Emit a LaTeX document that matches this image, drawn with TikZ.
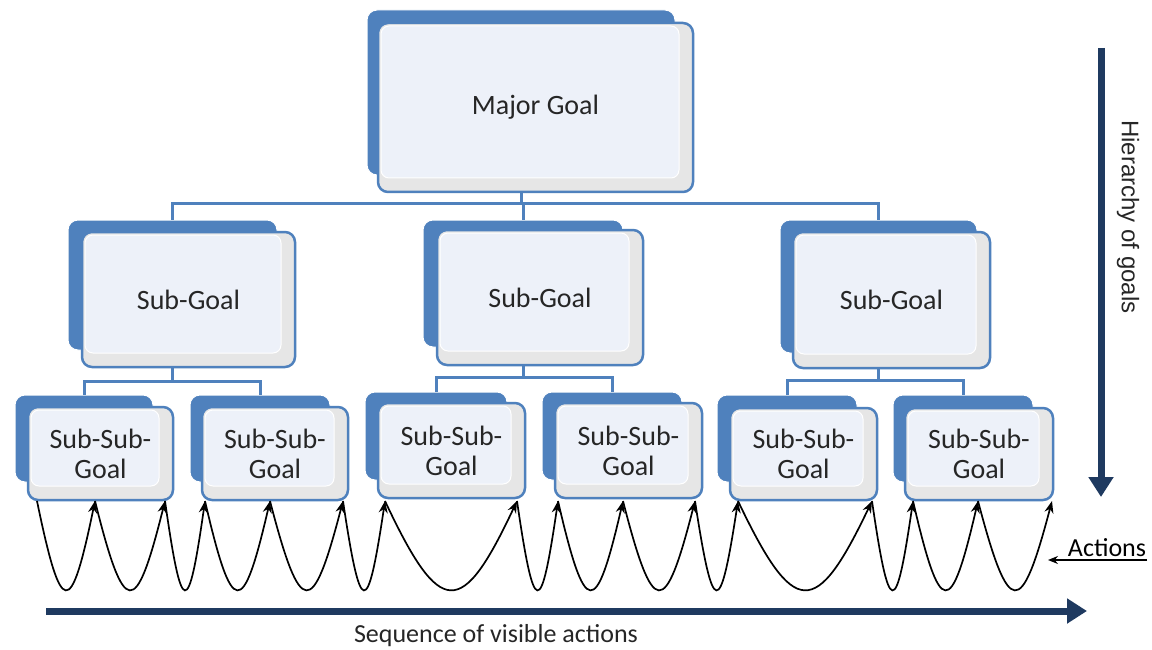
\documentclass[tikz,border=0pt]{standalone}
\usepackage{fontspec}
\setmainfont{Carlito}
\newfontfamily\arialfont{Liberation Sans}
\usetikzlibrary{fit,calc,arrows.meta}
\definecolor{boxblue}{HTML}{4F81BD}
\definecolor{innerfill}{HTML}{EDF1F9}
\definecolor{bevel}{HTML}{E6E6E6}
\definecolor{navy}{HTML}{1F3A60}
\definecolor{txt}{HTML}{262626}
\begin{document}
\begin{tikzpicture}[x=1pt,y=-1pt,
  backbox/.style={fill=boxblue, draw=white, line width=1pt, rounded corners=10pt, inner sep=0pt},
  frontbox/.style={fill=bevel, draw=boxblue, line width=2.5pt, rounded corners=10pt, inner sep=0pt,
    path picture={\fill[innerfill, draw=white, line width=1pt, rounded corners=8pt]
      ($(path picture bounding box.north west)+(3,3)$) rectangle
      ($(path picture bounding box.south east)+(-14,-14)$);}},
  boxtext/.style={text=txt, inner sep=0pt, font=\fontsize{28}{30}\selectfont, align=center},
  conn/.style={draw=boxblue, line width=3pt},
  action/.style={draw=black, line width=1.7pt, -{Stealth[length=12pt,width=9pt]}},
  bigarrow/.style={draw=navy, line width=7pt, -{Triangle[length=20pt,width=24pt]}},
  lbl/.style={text=txt, inner sep=0pt}
]
\fill[white] (0,0) rectangle (1152,650);
\useasboundingbox (0,0) rectangle (1152,650);

% Major goal
\node[backbox, fit={(367,10) (675,175)}] (majB) {};
\node[frontbox, fit={(378,23) (693,192)}] (majF) {};
\node[boxtext] (majT) at (majF.center) {Major Goal};

% Sub-goals
\node[backbox, fit={(68,220) (277,350)}] (sg1B) {};
\node[frontbox, fit={(82,232) (295,367)}] (sg1F) {};
\node[boxtext] (sg1T) at (sg1F.center) {Sub-Goal};
\node[backbox, fit={(423,220) (623,347)}] (sg2B) {};
\node[frontbox, fit={(437,230) (643,365)}] (sg2F) {};
\node[boxtext] (sg2T) at (sg2F.center) {Sub-Goal};
\node[backbox, fit={(780,220) (977,353)}] (sg3B) {};
\node[frontbox, fit={(793,232) (990,368)}] (sg3F) {};
\node[boxtext] (sg3T) at (sg3F.center) {Sub-Goal};

% Sub-sub-goals
\node[backbox, fit={(15,395) (153,482)}] (ssg1B) {};
\node[frontbox, fit={(28,407) (173,500)}] (ssg1F) {};
\node[boxtext] (ssg1T) at (ssg1F.center) {Sub-Sub-\\Goal};
\node[backbox, fit={(190,395) (330,482)}] (ssg2B) {};
\node[frontbox, fit={(202,407) (348,500)}] (ssg2F) {};
\node[boxtext] (ssg2T) at (ssg2F.center) {Sub-Sub-\\Goal};
\node[backbox, fit={(365,392) (507,480)}] (ssg3B) {};
\node[frontbox, fit={(378,403) (525,498)}] (ssg3F) {};
\node[boxtext] (ssg3T) at (ssg3F.center) {Sub-Sub-\\Goal};
\node[backbox, fit={(542,392) (682,480)}] (ssg4B) {};
\node[frontbox, fit={(555,403) (702,498)}] (ssg4F) {};
\node[boxtext] (ssg4T) at (ssg4F.center) {Sub-Sub-\\Goal};
\node[backbox, fit={(717,395) (857,482)}] (ssg5B) {};
\node[frontbox, fit={(730,408) (877,500)}] (ssg5F) {};
\node[boxtext] (ssg5T) at (ssg5F.center) {Sub-Sub-\\Goal};
\node[backbox, fit={(893,395) (1033,482)}] (ssg6B) {};
\node[frontbox, fit={(905,408) (1053,500)}] (ssg6F) {};
\node[boxtext] (ssg6T) at (ssg6F.center) {Sub-Sub-\\Goal};

% tree connectors
\coordinate (j0) at (0,204);
\coordinate (j1) at (0,381);
\coordinate (j2) at (0,377);
\coordinate (j3) at (0,380);
\draw[conn] (majF.south -| majB.center) -- (j0 -| majB.center) -| (sg1B.north);
\draw[conn] (j0 -| majB.center) -| (sg2B.north);
\draw[conn] (j0 -| majB.center) -| (sg3B.north);
\draw[conn] (sg1F.south -| sg1B.center) -- (j1 -| sg1B.center) -| (ssg1B.north);
\draw[conn] (j1 -| sg1B.center) -| (ssg2B.north);
\draw[conn] (sg2F.south -| sg2B.center) -- (j2 -| sg2B.center) -| (ssg3B.north);
\draw[conn] (j2 -| sg2B.center) -| (ssg4B.north);
\draw[conn] (sg3F.south -| sg3B.center) -- (j3 -| sg3B.center) -| (ssg5B.north);
\draw[conn] (j3 -| sg3B.center) -| (ssg6B.north);

% action points
\foreach \n/\x in {0/37,1/95,2/165,3/205,4/270,5/343,6/385,7/517,8/558,9/623,10/695,11/738,12/872,13/913,14/978,15/1052}
  \coordinate (a\n) at (\x,501);
\foreach \p/\q in {0/1,1/2,2/3,3/4,4/5,5/6,6/7,7/8,8/9,9/10,10/11,11/12,12/13,13/14,14/15}
  \draw[action] (a\p) .. controls ($(a\p)!0.42!(a\q)+(0,118)$) and ($(a\q)!0.42!(a\p)+(0,118)$) .. (a\q);

% big arrows
\coordinate (hs) at (46,611);
\coordinate (he) at (1087,611);
\draw[bigarrow] (hs) -- (he);
\coordinate (vs) at (1101,48);
\coordinate (ve) at (1101,497);
\draw[bigarrow] (vs) -- (ve);

% labels
\node[lbl, font=\fontsize{26}{30}\selectfont] (seq) at (496,636) {Sequence of visible actions};
\node[lbl, font=\arialfont\fontsize{24}{28}\selectfont, rotate=-90] (hier) at (1128,217) {Hierarchy of goals};
\node[lbl, font=\fontsize{26}{30}\selectfont, text=black, anchor=base] (act) at (1107,556) {Actions};
\coordinate (actR) at (1147,560);
\coordinate (actTip) at (1048,560);
\draw[line width=1.2pt, -{Stealth[length=10pt,width=8pt]}] (actR) -- (actTip);
\end{tikzpicture}
\end{document}
